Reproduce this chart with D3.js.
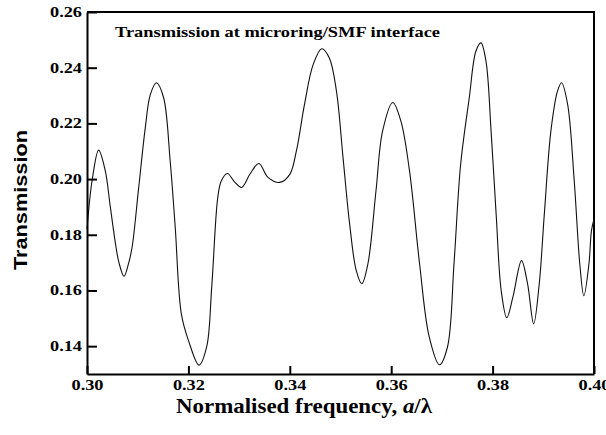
<!DOCTYPE html>
<html>
<head>
<meta charset="utf-8">
<script src="https://cdn.jsdelivr.net/npm/d3@7"></script>
<style>
  html, body { margin: 0; padding: 0; background: #fff; }
  svg { display: block; }
</style>
</head>
<body>
<svg id="chart" width="606" height="435"></svg>
<script>
// ---- data ----
const freq = [0.3000, 0.3010, 0.3023, 0.3036, 0.3046, 0.3056, 0.3063, 0.3073, 0.3082, 0.3089,
  0.3102, 0.3115, 0.3125, 0.3137, 0.3151, 0.3164, 0.3174, 0.3186, 0.3200, 0.3221,
  0.3236, 0.3246, 0.3258, 0.3265, 0.3277, 0.3291, 0.3305, 0.3322, 0.3339, 0.3357,
  0.3380, 0.3400, 0.3413, 0.3429, 0.3446, 0.3463, 0.3478, 0.3492, 0.3505, 0.3518,
  0.3531, 0.3542, 0.3554, 0.3570, 0.3583, 0.3603, 0.3619, 0.3636, 0.3656, 0.3675,
  0.3695, 0.3711, 0.3724, 0.3737, 0.3754, 0.3767, 0.3777, 0.3787, 0.3797, 0.3807,
  0.3817, 0.3828, 0.3840, 0.3857, 0.3869, 0.3881, 0.3892, 0.3902, 0.3915, 0.3928,
  0.3936, 0.3948, 0.3961, 0.3972, 0.3980, 0.3990, 0.3995, 0.4000];
const transmission = [0.182, 0.1994, 0.2104, 0.2030, 0.1900, 0.1770, 0.1700, 0.1651, 0.1697, 0.1756,
  0.1970, 0.2185, 0.2304, 0.2346, 0.2293, 0.2066, 0.1827, 0.1517, 0.1421, 0.1332,
  0.1397, 0.1612, 0.1935, 0.1994, 0.2020, 0.1990, 0.1970, 0.2020, 0.2056, 0.2006,
  0.1988, 0.2017, 0.2101, 0.2268, 0.2411, 0.2468, 0.2435, 0.2316, 0.2077, 0.1839,
  0.1672, 0.1624, 0.1695, 0.1958, 0.2172, 0.2275, 0.2209, 0.2031, 0.1695, 0.1433,
  0.1333, 0.1397, 0.1700, 0.2053, 0.2292, 0.2459, 0.2489, 0.2423, 0.2173, 0.1874,
  0.1599, 0.1502, 0.1576, 0.1707, 0.1624, 0.1480, 0.1624, 0.1874, 0.2173, 0.2316,
  0.2346, 0.2268, 0.1994, 0.1695, 0.1581, 0.1695, 0.1815, 0.1856];
const xTicks = [0.30, 0.32, 0.34, 0.36, 0.38, 0.40];
const yTicks = [0.14, 0.16, 0.18, 0.20, 0.22, 0.24, 0.26];
const titleText = "Transmission at microring/SMF interface";
const xLabelMain = "Normalised frequency, ";
const yLabelText = "Transmission";

// ---- layout ----
const L = 87, R = 594, T = 12, B = 374;
const svg = d3.select("#chart");

const x = d3.scaleLinear().domain([0.30, 0.40]).range([L, R]);
const y = d3.scaleLinear().domain([0.13, 0.26]).range([B, T]);
const fmt = d3.format(".2f");

// frame (top + right)
svg.append("path")
  .attr("d", `M${L},${T}H${R}V${B}`)
  .attr("fill", "none").attr("stroke", "#000").attr("stroke-width", 2);

// curve
const pts = freq.map((f, i) => [f, transmission[i]]);
svg.append("path")
  .datum(pts)
  .attr("fill", "none")
  .attr("stroke", "#111")
  .attr("stroke-width", 1.1)
  .attr("d", d3.line().x(d => x(d[0])).y(d => y(d[1])).curve(d3.curveCatmullRom.alpha(0.5)));

// y axis
const gy = svg.append("g").attr("transform", `translate(${L},0)`)
  .call(d3.axisLeft(y).tickValues(yTicks).tickFormat(fmt).tickSizeInner(-10).tickSizeOuter(0).tickPadding(5));
// x axis
const gx = svg.append("g").attr("transform", `translate(0,${B})`)
  .call(d3.axisBottom(x).tickValues(xTicks).tickFormat(fmt).tickSizeInner(-8).tickSizeOuter(0).tickPadding(6));

[gy, gx].forEach(g => {
  g.select(".domain").attr("stroke", "#000").attr("stroke-width", 2);
  g.selectAll(".tick line").attr("stroke", "#000").attr("stroke-width", 2);
  g.selectAll(".tick text")
    .attr("fill", "#000")
    .style("font-family", "'Liberation Serif', 'Times New Roman', serif")
    .style("font-weight", "bold")
    .style("font-size", "14px")
    .attr("textLength", 32)
    .attr("lengthAdjust", "spacingAndGlyphs");
});

// title inside plot
svg.append("text")
  .attr("x", 115).attr("y", 37)
  .style("font-family", "'Liberation Serif', 'Times New Roman', serif")
  .style("font-weight", "bold").style("font-size", "14px")
  .attr("textLength", 325).attr("lengthAdjust", "spacingAndGlyphs")
  .text(titleText);

// x label
const xl = svg.append("text")
  .attr("x", 176).attr("y", 413)
  .style("font-family", "'Liberation Serif', 'Times New Roman', serif")
  .style("font-weight", "bold").style("font-size", "21px")
  .attr("textLength", 256).attr("lengthAdjust", "spacingAndGlyphs");
xl.append("tspan").text(xLabelMain);
xl.append("tspan").style("font-style", "italic").text("a");
xl.append("tspan").text("/λ");

// y label
svg.append("text")
  .attr("transform", "translate(26.5,200) rotate(-90)")
  .attr("text-anchor", "middle")
  .style("font-family", "'Liberation Sans', Arial, sans-serif")
  .style("font-weight", "bold").style("font-size", "19px")
  .attr("textLength", 140).attr("lengthAdjust", "spacingAndGlyphs")
  .text(yLabelText);
</script>
</body>
</html>
